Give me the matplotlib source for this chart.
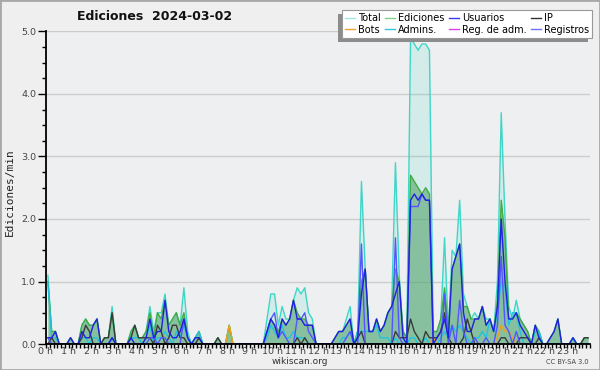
import matplotlib
matplotlib.use("Agg")
import matplotlib.pyplot as plt
import numpy as np
from matplotlib.patches import Rectangle
from matplotlib.lines import Line2D
from matplotlib.ticker import MultipleLocator, FixedLocator

# ---------------- data (edits per minute, 10-minute bins) ----------------
hour_ticks = list(range(24))
hour_labels = [f"{h} h" for h in hour_ticks]
y_ticks = [0, 1, 2, 3, 4, 5]
y_labels = ["0.0", "1.0", "2.0", "3.0", "4.0", "5.0"]

total = [
    1.1, 0.2, 0.2, 0, 0, 0,
    0.1, 0, 0, 0.3, 0.4, 0.3,
    0.3, 0.4, 0, 0.1, 0.1, 0.6,
    0, 0, 0, 0, 0.2, 0.3,
    0.1, 0.1, 0.2, 0.6, 0.2, 0.5,
    0.5, 0.8, 0.3, 0.4, 0.5, 0.3,
    0.9, 0.2, 0, 0.1, 0.2, 0,
    0, 0, 0, 0.1, 0, 0,
    0.3, 0, 0, 0, 0, 0,
    0, 0, 0, 0, 0.4, 0.8,
    0.8, 0.3, 0.6, 0.4, 0.4, 0.7,
    0.9, 0.8, 0.9, 0.5, 0.4, 0,
    0, 0, 0, 0, 0.1, 0.2,
    0.2, 0.4, 0.6, 0, 0.2, 2.6,
    1.2, 0.2, 0.2, 0.4, 0.2, 0.3,
    0.5, 0.6, 2.9, 1.1, 0.2, 0.1,
    4.9, 4.8, 4.7, 4.8, 4.8, 4.7,
    0.2, 0.2, 0.4, 1.7, 0.2, 1.5,
    1.4, 2.3, 0.8, 0.6, 0.4, 0.5,
    0.4, 0.6, 0.4, 0.4, 0.2, 1.0,
    3.7, 2.0, 0.6, 0.4, 0.7, 0.4,
    0.3, 0.2, 0, 0.3, 0.2, 0,
    0, 0.1, 0.2, 0.4, 0, 0,
    0, 0.1, 0, 0, 0.1, 0.1,
]

ediciones = [
    1.0, 0.2, 0.2, 0, 0, 0,
    0.1, 0, 0, 0.3, 0.4, 0.3,
    0.3, 0.4, 0, 0.1, 0.1, 0.5,
    0, 0, 0, 0, 0.2, 0.3,
    0.1, 0.1, 0.2, 0.5, 0.1, 0.5,
    0.4, 0.7, 0.3, 0.4, 0.5, 0.3,
    0.5, 0.1, 0, 0.1, 0.2, 0,
    0, 0, 0, 0.1, 0, 0,
    0.3, 0, 0, 0, 0, 0,
    0, 0, 0, 0, 0.2, 0.4,
    0.3, 0.2, 0.4, 0.3, 0.4, 0.7,
    0.5, 0.4, 0.4, 0.3, 0.3, 0,
    0, 0, 0, 0, 0.1, 0.2,
    0.2, 0.3, 0.4, 0, 0.2, 1.0,
    1.2, 0.2, 0.2, 0.4, 0.2, 0.3,
    0.5, 0.6, 1.2, 1.0, 0.2, 0.1,
    2.7, 2.6, 2.5, 2.4, 2.5, 2.4,
    0.2, 0.2, 0.4, 0.9, 0.2, 1.2,
    1.4, 1.6, 0.6, 0.6, 0.4, 0.4,
    0.4, 0.6, 0.3, 0.4, 0.2, 0.7,
    2.3, 1.7, 0.4, 0.4, 0.5, 0.4,
    0.3, 0.2, 0, 0.3, 0.2, 0,
    0, 0.1, 0.2, 0.4, 0, 0,
    0, 0.1, 0, 0, 0.1, 0.1,
]

usuarios = [
    0.1, 0.1, 0.2, 0, 0, 0,
    0.1, 0, 0, 0.2, 0.1, 0.1,
    0.3, 0.4, 0, 0, 0, 0.1,
    0, 0, 0, 0, 0.1, 0,
    0, 0, 0.1, 0.4, 0.1, 0.2,
    0.2, 0.7, 0.2, 0.1, 0.1, 0.2,
    0.4, 0.1, 0, 0.1, 0.1, 0,
    0, 0, 0, 0, 0, 0,
    0, 0, 0, 0, 0, 0,
    0, 0, 0, 0, 0.2, 0.4,
    0.3, 0.1, 0.4, 0.3, 0.4, 0.7,
    0.4, 0.4, 0.3, 0.3, 0.3, 0,
    0, 0, 0, 0, 0.1, 0.2,
    0.2, 0.3, 0.4, 0, 0.1, 0.8,
    1.2, 0.2, 0.2, 0.4, 0.2, 0.3,
    0.5, 0.6, 0.8, 1.0, 0.1, 0,
    2.3, 2.4, 2.3, 2.4, 2.3, 2.3,
    0, 0.1, 0.2, 0.4, 0.1, 1.2,
    1.4, 1.6, 0.5, 0.2, 0.2, 0.4,
    0.4, 0.6, 0.3, 0.4, 0.2, 0.6,
    2.0, 1.0, 0.4, 0.4, 0.5, 0.3,
    0.2, 0.1, 0, 0.3, 0.1, 0,
    0, 0.1, 0.2, 0.4, 0, 0,
    0, 0.1, 0, 0, 0, 0,
]

ip = [
    0, 0.1, 0, 0, 0, 0,
    0, 0, 0, 0.1, 0.3, 0.2,
    0, 0, 0, 0.1, 0.1, 0.5,
    0, 0, 0, 0, 0.1, 0.3,
    0.1, 0.1, 0.1, 0.1, 0, 0.3,
    0.2, 0, 0.1, 0.3, 0.3, 0.1,
    0.1, 0, 0, 0, 0.1, 0,
    0, 0, 0, 0.1, 0, 0,
    0, 0, 0, 0, 0, 0,
    0, 0, 0, 0, 0, 0,
    0, 0, 0, 0, 0, 0,
    0.1, 0, 0.1, 0, 0, 0,
    0, 0, 0, 0, 0, 0,
    0, 0, 0, 0, 0.1, 0.2,
    0, 0, 0, 0, 0, 0,
    0, 0, 0.2, 0.1, 0.1, 0.1,
    0.4, 0.2, 0.1, 0, 0.2, 0.1,
    0.1, 0.1, 0.2, 0.5, 0.1, 0,
    0, 0, 0.1, 0.4, 0.2, 0,
    0, 0, 0, 0, 0, 0,
    0.1, 0.1, 0, 0, 0, 0.1,
    0.1, 0.1, 0, 0, 0.1, 0,
    0, 0, 0, 0, 0, 0,
    0, 0, 0, 0, 0.1, 0.1,
]

bots = [
    0, 0, 0, 0, 0, 0,
    0, 0, 0, 0, 0, 0,
    0, 0, 0, 0, 0, 0,
    0, 0, 0, 0, 0, 0,
    0, 0, 0, 0, 0, 0,
    0, 0, 0, 0, 0, 0,
    0, 0, 0, 0, 0, 0,
    0, 0, 0, 0, 0, 0,
    0.3, 0, 0, 0, 0, 0,
    0, 0, 0, 0, 0, 0,
    0, 0, 0, 0, 0, 0,
    0, 0, 0, 0, 0, 0,
    0, 0, 0, 0, 0, 0,
    0, 0, 0, 0, 0, 0,
    0, 0, 0, 0, 0, 0,
    0, 0, 0, 0, 0, 0,
    0, 0, 0, 0, 0, 0,
    0.1, 0, 0, 0, 0, 0,
    0, 0, 0, 0, 0, 0,
    0, 0, 0, 0, 0, 0.1,
    0.3, 0.2, 0.2, 0.1, 0, 0,
    0, 0, 0, 0, 0, 0,
    0, 0, 0, 0, 0, 0,
    0, 0, 0, 0, 0, 0,
]

admins = [
    1.0, 0.1, 0.1, 0, 0, 0,
    0, 0, 0, 0.1, 0.1, 0,
    0.1, 0.1, 0, 0, 0, 0.1,
    0, 0, 0, 0, 0.1, 0.1,
    0.1, 0, 0.1, 0.3, 0, 0.1,
    0.1, 0.2, 0.1, 0, 0.2, 0.1,
    0.3, 0.1, 0, 0.1, 0.2, 0,
    0, 0, 0, 0, 0, 0,
    0, 0, 0, 0, 0, 0,
    0, 0, 0, 0, 0.1, 0.3,
    0.2, 0.1, 0.3, 0.1, 0.1, 0.2,
    0.1, 0.1, 0.1, 0, 0, 0,
    0, 0, 0, 0, 0, 0,
    0.1, 0.1, 0.2, 0, 0.2, 0.2,
    0.2, 0.2, 0.2, 0.3, 0.1, 0.1,
    0.1, 0, 0.1, 0, 0, 0,
    0.1, 0.1, 0, 0, 0.1, 0,
    0, 0, 0.1, 0.2, 0.1, 0.3,
    0.2, 0.3, 0.2, 0.1, 0, 0.1,
    0.1, 0.2, 0.1, 0.4, 0.2, 0.5,
    1.0, 0.9, 0.3, 0.5, 0.5, 0.2,
    0, 0, 0, 0.2, 0.2, 0,
    0, 0, 0, 0, 0, 0,
    0, 0.1, 0, 0, 0, 0,
]

reg_adm = [
    0, 0, 0, 0, 0, 0,
    0, 0, 0, 0, 0, 0,
    0, 0, 0, 0, 0, 0,
    0, 0, 0, 0, 0, 0,
    0, 0, 0, 0, 0, 0,
    0, 0, 0, 0, 0, 0,
    0, 0, 0, 0, 0, 0,
    0, 0, 0, 0, 0, 0,
    0, 0, 0, 0, 0, 0,
    0, 0, 0, 0, 0, 0,
    0, 0, 0, 0, 0, 0,
    0, 0, 0, 0, 0, 0,
    0, 0, 0, 0, 0, 0,
    0, 0, 0, 0, 0, 0,
    0, 0, 0, 0, 0, 0,
    0, 0, 0, 0, 0, 0,
    0, 0, 0, 0, 0, 0,
    0, 0, 0, 0, 0, 0,
    0, 0, 0, 0, 0, 0,
    0, 0, 0, 0, 0, 0,
    0, 0, 0, 0, 0, 0,
    0, 0, 0, 0, 0, 0,
    0, 0, 0, 0, 0, 0,
    0, 0, 0, 0, 0, 0,
]

registros = [
    0.1, 0, 0, 0, 0, 0,
    0, 0, 0, 0, 0, 0,
    0, 0, 0, 0, 0, 0.1,
    0, 0, 0, 0, 0, 0,
    0, 0, 0, 0.1, 0.1, 0,
    0.1, 0.1, 0, 0, 0, 0,
    0.4, 0.1, 0, 0, 0, 0,
    0, 0, 0, 0, 0, 0,
    0, 0, 0, 0, 0, 0,
    0, 0, 0, 0, 0.2, 0.4,
    0.5, 0.1, 0.2, 0.1, 0, 0,
    0.4, 0.4, 0.5, 0.2, 0.1, 0,
    0, 0, 0, 0, 0, 0,
    0, 0.1, 0.2, 0, 0, 1.6,
    0, 0, 0, 0, 0, 0,
    0, 0, 1.7, 0.1, 0, 0,
    2.2, 2.2, 2.2, 2.4, 2.3, 2.3,
    0, 0, 0, 0.8, 0, 0.3,
    0, 0.7, 0.2, 0, 0, 0.1,
    0, 0, 0.1, 0, 0, 0.3,
    1.4, 0.3, 0.2, 0, 0.2, 0,
    0, 0, 0, 0, 0, 0,
    0, 0, 0, 0, 0, 0,
    0, 0, 0, 0, 0, 0,
]

slots_per_hour = 6

# ---------------- figure ----------------
W, H = 600, 370
BG = "#efefef"
fig = plt.figure(figsize=(W / 100, H / 100), dpi=100, facecolor=BG)
ax = fig.add_axes([46 / W, 26 / H, 544 / W, 312.5 / H])
ax.set_facecolor("#eeeff0")

x = (np.arange(len(total)) + 0.5) / slots_per_hour

c_total = "#3ed6c6"
c_edit = "#44aa44"
c_user = "#2020e0"
c_ip = "#3a3a3a"
c_bot = "#f0a020"
c_admin = "#20c4e0"
c_regadm = "#d040e0"
c_logs = "#5555ff"

for yv in y_ticks[1:]:
    ax.axhline(yv, color="#cccccc", lw=1.0, zorder=0)

ax.fill_between(x, 0, total, color=c_total, alpha=0.15, lw=0, zorder=1)
ax.plot(x, total, color=c_total, lw=1.0, zorder=2)
ax.fill_between(x, 0, ediciones, color="#4a9e62", alpha=0.55, lw=0, zorder=3)
ax.plot(x, ediciones, color=c_edit, lw=1.0, zorder=4)
ax.plot(x, admins, color=c_admin, lw=1.0, zorder=5)
ax.plot(x, reg_adm, color=c_regadm, lw=1.0, zorder=5)
ax.plot(x, bots, color=c_bot, lw=1.0, zorder=5)
ax.plot(x, ip, color=c_ip, lw=1.0, zorder=6)
ax.plot(x, registros, color=c_logs, lw=1.0, zorder=6)
ax.plot(x, usuarios, color=c_user, lw=1.0, zorder=7)

ax.set_xlim(0, 24)
ax.set_ylim(0, 5)

for s in ["top", "right"]:
    ax.spines[s].set_visible(False)
for s in ["left", "bottom"]:
    ax.spines[s].set_color("black")
    ax.spines[s].set_linewidth(1.3)
    ax.spines[s].set_zorder(10)

ax.yaxis.set_major_locator(FixedLocator(y_ticks))
ax.set_yticklabels(y_labels)
ax.yaxis.set_minor_locator(MultipleLocator(0.25))
ax.xaxis.set_major_locator(FixedLocator(hour_ticks))
ax.set_xticklabels(hour_labels)
ax.xaxis.set_minor_locator(MultipleLocator(1 / slots_per_hour))

ax.tick_params(axis="y", which="major", length=6, width=1, labelsize=6.8,
               labelcolor="#444444", pad=1)
ax.tick_params(axis="y", which="minor", length=3, width=1)
ax.tick_params(axis="x", which="major", length=3, width=1, labelsize=6.8,
               labelcolor="#444444", pad=-0.5)
ax.tick_params(axis="x", which="minor", length=3, width=1)

fig.text(155 / W, 1 - 17 / H, "Ediciones  2024-03-02", ha="center", va="center",
         fontsize=9, fontweight="bold", color="#111111")
fig.text(10 / W, 1 - 192 / H, "Ediciones/min", rotation=90, ha="center", va="center",
         family="DejaVu Sans Mono", fontsize=8, color="#222222")
fig.text(300 / W, 1 - 362 / H, "wikiscan.org", ha="center", va="center",
         fontsize=6.5, color="#333333")
fig.text(589 / W, 1 - 362 / H, "CC BY-SA 3.0", ha="right", va="center",
         fontsize=4.8, color="#444444")

# legend (column-wise order)
leg_items = [
    ("Total", "#a0eae6"), ("Bots", "#f5a030"),
    ("Ediciones", "#80d480"), ("Admins.", "#30c8e0"),
    ("Usuarios", "#3a3aee"), ("Reg. de adm.", "#dd44ee"),
    ("IP", "#333333"), ("Registros", "#7070ff"),
]
handles = [Line2D([], [], color=c, lw=1.0) for _, c in leg_items]
labels = [t for t, _ in leg_items]
leg = fig.legend(handles, labels, ncol=4, loc="upper right",
                 bbox_to_anchor=(592 / W, 1 - 10 / H), fontsize=7.0,
                 frameon=True, fancybox=False, edgecolor="#999999",
                 facecolor="white", framealpha=1, handlelength=1.0,
                 handletextpad=0.3, columnspacing=0.5, labelspacing=0.2,
                 borderpad=0.3, borderaxespad=0)
leg.get_frame().set_linewidth(0.8)
leg.set_zorder(20)

fig.canvas.draw()
bb = leg.get_window_extent()
shadow = Rectangle(((bb.x0 - 4) / W, (bb.y0 - 4) / H), bb.width / W, bb.height / H,
                   transform=fig.transFigure, facecolor="#8c8c8c", edgecolor="none",
                   zorder=19)
fig.add_artist(shadow)

border = Rectangle((0, 0), 1, 1, transform=fig.transFigure, fill=False,
                   edgecolor="#a8a8a8", lw=2.0, zorder=30)
fig.add_artist(border)

fig.savefig("out.png", dpi=100, facecolor=BG)
